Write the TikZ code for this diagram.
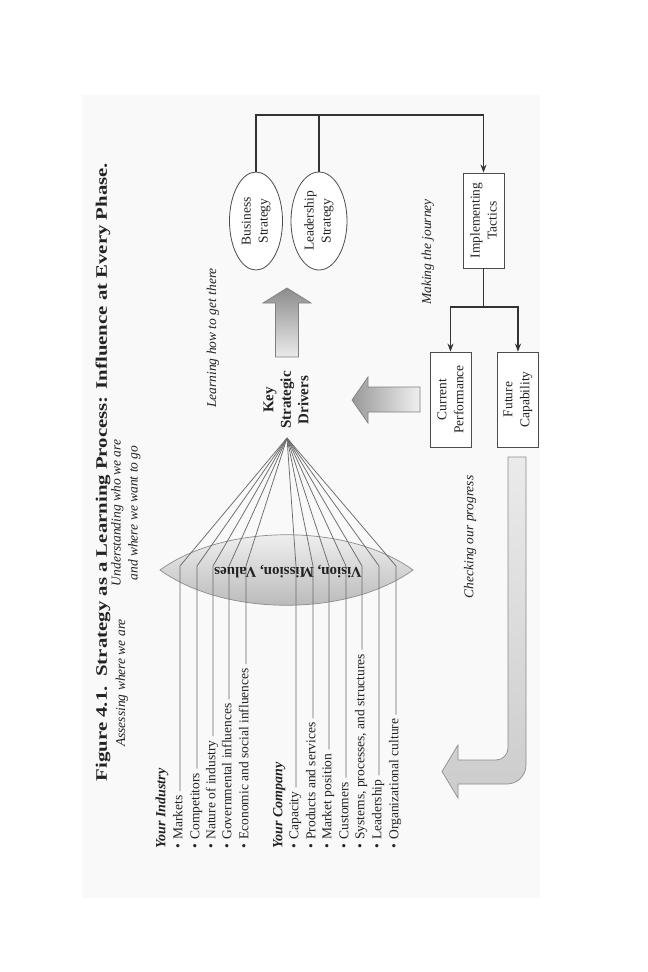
\documentclass[tikz,border=0pt]{standalone}
\usepackage{fontspec}
\setmainfont{Liberation Serif}
\newfontfamily\titlefont[FakeStretch=1.3]{Liberation Serif}
\usetikzlibrary{arrows.meta,calc,shapes.geometric}
\definecolor{bgc}{HTML}{F9F9F9}
\definecolor{ink}{HTML}{222222}
\begin{document}
\begin{tikzpicture}[x=1pt,y=-1pt,
  txt/.style={rotate=90, inner sep=1.5pt, text=ink, font=\fontsize{13.5}{16}\selectfont},
  item/.style={txt, anchor=mid west},
  head/.style={item, font=\fontsize{14}{16}\selectfont\bfseries\itshape},
  note/.style={txt, font=\fontsize{13.5}{17}\selectfont\itshape, align=center},
  conn/.style={draw=black!58, line width=0.75pt, shorten <=2.5pt},
  bracket/.style={draw=black!80, line width=1.5pt},
  tip/.style={-{Stealth[length=8pt,width=6pt]}},
  rbox/.style={draw=black!70, line width=0.8pt, fill=white, rotate=90, align=center,
    text=ink, font=\fontsize{13.5}{17}\selectfont, minimum width=95pt, minimum height=41pt, inner sep=0pt},
  oval/.style={ellipse, draw=black!70, line width=0.8pt, fill=white, rotate=90, align=center,
    text=ink, font=\fontsize{13.5}{17}\selectfont, minimum width=98pt, inner sep=0pt},
  block/.style={draw=black!50, line width=0.7pt}
]
\useasboundingbox (0,0) rectangle (648,972);
\fill[white] (0,0) rectangle (648,972);
\fill[bgc] (82,95) rectangle (540,898);

% title and notes
\node[txt, font=\titlefont\bfseries\fontsize{16}{18}\selectfont] (title) at (103,472)
  {Figure 4.1.\hspace{0.6em}Strategy as a Learning Process: Influence at Every Phase.};
\node[note] (assess) at (122,683) {Assessing where we are};
\node[note] (underst) at (126,513) {Understanding who we are\\and where we want to go};
\node[note] (learn) at (213,338) {Learning how to get there};
\node[note] (journey) at (428,252) {Making the journey};
\node[note] (check) at (470,537) {Checking our progress};

% lens
\path[draw=black!45, line width=0.7pt, top color=black!3, bottom color=black!30]
  (160,570) .. controls (225,523) and (348,523) .. (413,570)
            .. controls (348,617) and (225,617) .. (160,570) -- cycle;

% list
\node[head] (yi) at (163,850) {Your Industry};
\node[item] (i1) at (180,850) {•\hspace{0.3em}Markets};
\node[item] (i2) at (197,850) {•\hspace{0.3em}Competitors};
\node[item] (i3) at (213,850) {•\hspace{0.3em}Nature of industry};
\node[item] (i4) at (229,850) {•\hspace{0.3em}Governmental influences};
\node[item] (i5) at (246,850) {•\hspace{0.3em}Economic and social influences};
\node[head] (yc) at (280,850) {Your Company};
\node[item] (c1) at (296,850) {•\hspace{0.3em}Capacity};
\node[item] (c2) at (313,850) {•\hspace{0.3em}Products and services};
\node[item] (c3) at (329,850) {•\hspace{0.3em}Market position};
\node[item] (c4) at (346,850) {•\hspace{0.3em}Customers};
\node[item] (c5) at (362,850) {•\hspace{0.3em}Systems, processes, and structures};
\node[item] (c6) at (379,850) {•\hspace{0.3em}Leadership};
\node[item] (c7) at (396,850) {•\hspace{0.3em}Organizational culture};

\coordinate (apex) at (287,438);
\coordinate (bend) at (0,566);
\foreach \n in {i1,i2,i3,i4,i5,c1,c2,c3,c4,c5,c6,c7}{
  \draw[conn] (\n.mid east) -- (\n.mid east |- bend) -- (apex);
}

\node[rotate=180, text=ink, font=\bfseries\fontsize{15}{18}\selectfont, inner sep=0pt] (vmv) at (288,572) {Vision, Mission, Values};

% key strategic drivers
\node[txt, font=\bfseries\fontsize{15}{17.5}\selectfont, align=center] (ksd) at (286,400) {Key\\Strategic\\Drivers};

% block arrow up
\path[block, top color=black!45, bottom color=black!8]
  (275.5,357) -- (275.5,303) -- (263,303) -- (287,288) -- (311,303) -- (298.5,303) -- (298.5,357) -- cycle;
% block arrow left
\path[block, left color=black!40, right color=black!6]
  (420,387) -- (368,387) -- (368,377) -- (352,400) -- (368,423) -- (368,412) -- (420,412) -- cycle;

% strategies
\node[oval, minimum height=53pt] (bs) at (256,221) {Business\\Strategy};
\node[oval, minimum height=56pt] (ls) at (319,221) {Leadership\\Strategy};

% tactics and results
\node[rbox] (it) at (483.5,220.5) {Implementing\\Tactics};
\node[rbox] (cp) at (450.5,399.5) {Current\\Performance};
\node[rbox] (fc) at (518,399.5) {Future\\Capability};

\coordinate (topy) at (0,115);
\draw[bracket] (bs.east) -- (bs.east |- topy) -- (it.east |- topy);
\draw[bracket] (ls.east) -- (ls.east |- topy);
\draw[bracket, tip] (it.east |- topy) -- (it.east);
\coordinate (split) at (0,307);
\draw[bracket] (it.west) -- (it.west |- split);
\draw[bracket, tip] (it.west |- split) -| (cp.east);
\draw[bracket, tip] (it.west |- split) -| (fc.east);

% curved return arrow
\path[draw=black!45, line width=0.7pt, top color=black!8, bottom color=black!20]
  (526,457) -- (526,765) arc[start angle=0, end angle=90, radius=19]
  -- (458,784) -- (458,798) -- (442,771.5) -- (458,745) -- (458,760)
  -- (496,760) arc[start angle=90, end angle=0, radius=12]
  -- (508,457) -- cycle;
\end{tikzpicture}
\end{document}
